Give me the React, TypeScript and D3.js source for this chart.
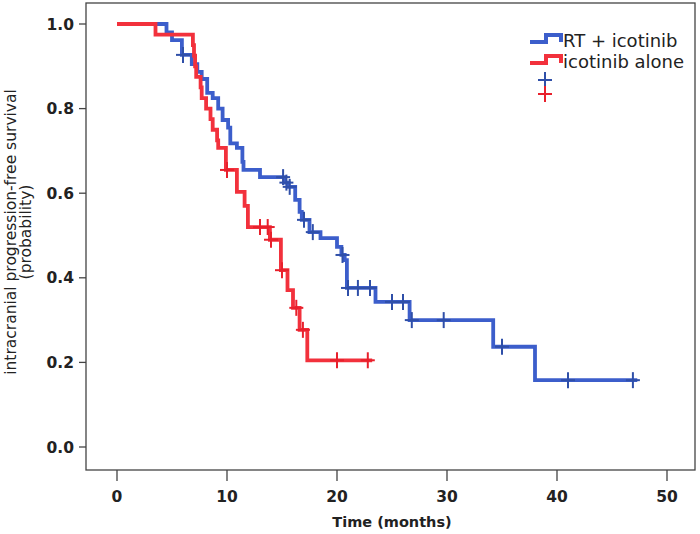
import React from "react";
import * as d3 from "d3";

// ---- Data ----
// RT + icotinib: step times (months) and survival after each step
const blueTimes = [4.5, 5.0, 5.9, 6.8, 7.3, 7.7, 8.2, 8.7, 9.2, 9.6, 10.1, 10.3, 10.9, 11.4, 11.5, 13.0, 15.2, 15.6, 16.2, 16.6, 16.8, 17.5, 18.5, 20.0, 20.4, 20.7, 20.9, 23.5, 26.6, 34.2, 38.0];
const blueSurv = [0.98, 0.962, 0.927, 0.905, 0.887, 0.87, 0.837, 0.825, 0.8, 0.773, 0.755, 0.718, 0.707, 0.674, 0.655, 0.638, 0.625, 0.615, 0.584, 0.556, 0.537, 0.508, 0.494, 0.473, 0.454, 0.442, 0.376, 0.343, 0.3, 0.237, 0.158];
const blueCensor = [6.0, 15.1, 15.4, 15.7, 17.0, 17.8, 20.5, 21.0, 21.9, 23.0, 25.0, 26.0, 26.8, 29.7, 35.0, 41.0, 46.9];
const blueEnd = 47.3;

// icotinib alone
const redTimes = [3.5, 6.9, 7.0, 7.1, 7.2, 7.6, 7.7, 8.1, 8.5, 8.7, 9.1, 9.2, 9.9, 10.9, 11.6, 11.9, 13.9, 14.9, 15.5, 16.0, 16.6, 17.3];
const redSurv = [0.975, 0.95, 0.925, 0.9, 0.875, 0.85, 0.825, 0.8, 0.775, 0.75, 0.725, 0.707, 0.655, 0.603, 0.57, 0.52, 0.49, 0.418, 0.371, 0.329, 0.277, 0.205];
const redCensor = [10.0, 13.0, 13.7, 14.0, 15.0, 16.3, 16.9, 20.0, 22.8];
const redEnd = 23.2;

const xTicks = [0, 10, 20, 30, 40, 50];
const yTicks = [0.0, 0.2, 0.4, 0.6, 0.8, 1.0];
const seriesNames = ["RT + icotinib", "icotinib alone"];

const BLUE = "#3c5ecb";
const RED = "#f2313c";
const BLUE_C = "#2f4fa8";
const RED_C = "#e8202c";

const W = 700;
const H = 534;
const frame = { left: 86, right: 695, top: 3, bottom: 470 };

const x = d3.scaleLinear().domain([0, 50]).range([117, 667]);
const y = d3.scaleLinear().domain([0, 1]).range([447, 24]);

function stepPoints(times: number[], surv: number[], end: number): [number, number][] {
  const pts: [number, number][] = [[0, 1]];
  times.forEach((t, i) => pts.push([t, surv[i]]));
  pts.push([end, surv[surv.length - 1]]);
  return pts;
}

function survAt(times: number[], surv: number[], t: number): number {
  const i = d3.bisectRight(times, t);
  return i === 0 ? 1 : surv[i - 1];
}

const line = d3
  .line<[number, number]>()
  .x((d) => x(d[0]))
  .y((d) => y(d[1]))
  .curve(d3.curveStepAfter);

const FONT = "'DejaVu Sans', Verdana, sans-serif";

function Cross({ cx, cy, color }: { cx: number; cy: number; color: string }) {
  return (
    <g stroke={color} strokeWidth={2}>
      <line x1={cx - 7} x2={cx + 7} y1={cy} y2={cy} />
      <line x1={cx} x2={cx} y1={cy - 8} y2={cy + 8} />
    </g>
  );
}

export default function App() {
  const bluePts = stepPoints(blueTimes, blueSurv, blueEnd);
  const redPts = stepPoints(redTimes, redSurv, redEnd);
  return (
    <svg
      width={W}
      height={H}
      style={{ position: "absolute", left: 0, top: 0, background: "#fff" }}
      fontFamily={FONT}
    >
      <rect x={0} y={0} width={W} height={H} fill="#fff" />
      {/* frame */}
      <rect
        x={frame.left}
        y={frame.top}
        width={frame.right - frame.left}
        height={frame.bottom - frame.top}
        fill="none"
        stroke="#444"
        strokeWidth={1.3}
      />
      {/* y ticks */}
      {yTicks.map((v) => (
        <g key={"y" + v}>
          <line x1={frame.left - 7} x2={frame.left} y1={y(v)} y2={y(v)} stroke="#444" strokeWidth={1.3} />
          <text x={74} y={y(v)} dy="0.36em" textAnchor="end" fontSize={15.5} fontWeight="bold" fill="#222">
            {v.toFixed(1)}
          </text>
        </g>
      ))}
      {/* x ticks */}
      {xTicks.map((v) => (
        <g key={"x" + v}>
          <line x1={x(v)} x2={x(v)} y1={frame.bottom} y2={frame.bottom + 11} stroke="#444" strokeWidth={1.3} />
          <text x={x(v)} y={502} textAnchor="middle" fontSize={15.5} fontWeight="bold" fill="#222">
            {v}
          </text>
        </g>
      ))}
      {/* axis titles */}
      <text x={392} y={527} textAnchor="middle" fontSize={14.5} fontWeight="bold" fill="#222">
        Time (months)
      </text>
      <g transform={`translate(16, 232) rotate(-90)`}>
        <text x={0} y={0} textAnchor="middle" fontSize={15.5} fill="#222">
          intracranial progression-free survival
        </text>
        <text x={0} y={15} textAnchor="middle" fontSize={15.5} fill="#222">
          (probability)
        </text>
      </g>
      {/* curves */}
      <path d={line(bluePts) || ""} fill="none" stroke={BLUE} strokeWidth={3.8} />
      <path d={line(redPts) || ""} fill="none" stroke={RED} strokeWidth={3.8} />
      {blueCensor.map((t, i) => (
        <Cross key={"bc" + i} cx={x(t)} cy={y(survAt(blueTimes, blueSurv, t))} color={BLUE_C} />
      ))}
      {redCensor.map((t, i) => (
        <Cross key={"rc" + i} cx={x(t)} cy={y(survAt(redTimes, redSurv, t))} color={RED_C} />
      ))}
      {/* legend */}
      <path d="M530,42 H546 V35 H561 V42" fill="none" stroke={BLUE} strokeWidth={4} />
      <text x={563} y={47} fontSize={18} fill="#222">
        {seriesNames[0]}
      </text>
      <path d="M530,63 H546 V56 H561 V63" fill="none" stroke={RED} strokeWidth={4} />
      <text x={563} y={68} fontSize={18} fill="#222">
        {seriesNames[1]}
      </text>
      <Cross cx={545} cy={80} color={BLUE_C} />
      <Cross cx={545} cy={94} color={RED_C} />
    </svg>
  );
}
